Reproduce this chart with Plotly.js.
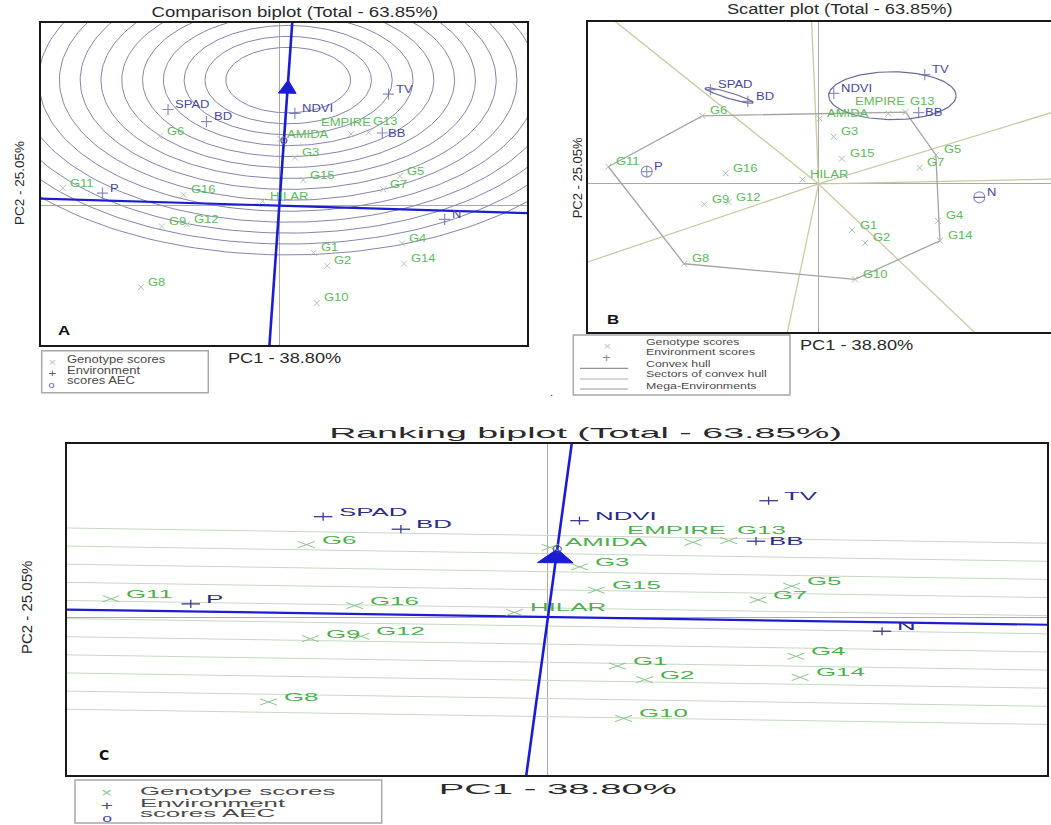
<!DOCTYPE html>
<html><head><meta charset="utf-8">
<script src="https://cdn.plot.ly/plotly-3.0.1.min.js"></script>
<style>html,body{margin:0;padding:0;background:#fff}</style>
</head><body>
<div id="chart" style="width:1051px;height:825px"></div>
<script>
// ---------------- data: PC1 / PC2 scores ----------------
const genotypes = ['G1','G2','G3','G4','G5','G6','G7','G8','G9','G10','G11','G12','G13','G14','G15','G16','EMPIRE','AMIDA','HILAR'];
const genoPC1   = [0.33, 0.46, 0.15, 1.18, 1.16,-1.15, 1.00,-1.33,-1.13, 0.36,-2.08,-0.89, 0.86, 1.20, 0.23,-0.92, 0.69, 0.01,-0.16];
const genoPC2   = [-0.86,-1.10,0.88,-0.69, 0.54, 1.27, 0.30,-1.49,-0.38,-1.78, 0.32,-0.34, 1.34,-1.06, 0.47, 0.20, 1.31, 1.22, 0.08];
const environments = ['SPAD','BD','NDVI','TV','BB','P','N'];
const envPC1 = [-1.07,-0.70, 0.15, 1.05, 0.99,-1.70, 1.59];
const envPC2 = [ 1.76, 1.54, 1.69, 2.04, 1.33, 0.23,-0.25];
const megaEnvGroups = [['SPAD','BD'], ['NDVI','TV','BB']];
const panelTitles = ['Comparison biplot (Total - 63.85%)', 'Scatter plot (Total - 63.85%)', 'Ranking biplot (Total - 63.85%)'];
const panelLetters = ['A','B','C'];
const xTitle = 'PC1 - 38.80%';
const yTitle = 'PC2 - 25.05%';
const legendA = ['Genotype scores','Environment','scores AEC'];
const legendB = ['Genotype scores','Environment scores','Convex hull','Sectors of convex hull','Mega-Environments'];

// ---------------- geometry settings ----------------
const W = 1051, H = 825;
const R = 0.806;              // PC2 : PC1 display metric of the original biplot
const RING_STEP = 0.2, RING_FIRST = 3, RING_LAST = 16, IDEAL_DIST = 2.3;
const RANK_STEP = 0.3175, RANK_OFFSETS = [4.5,3.5,2.5,1.5,0.5,-0.5,-1.5,-2.5,-3.5,-4.5,-5.5];
const ARROW_LEN = 0.24, ARROW_HALF = 0.085;
const BIG = 30;

const avg = a => a.reduce((s, v) => s + v, 0) / a.length;
const norm = v => { const l = Math.hypot(v[0], v[1]); return [v[0] / l, v[1] / l]; };
const perpMetric = v => [-R * v[1], v[0] / R];
const meanEnv = [avg(envPC1), avg(envPC2)];
const aecU = norm(meanEnv);
let ordU = norm(perpMetric(aecU)); if (ordU[0] < 0) ordU = [-ordU[0], -ordU[1]];
const ideal = [aecU[0] * IDEAL_DIST, aecU[1] * IDEAL_DIST];

function fullLine(p, d) { return {x: [p[0] - BIG * d[0], p[0] + BIG * d[0]], y: [p[1] - BIG * d[1], p[1] + BIG * d[1]]}; }
function arrowPoly(tip) {
  const b = [tip[0] - aecU[0] * ARROW_LEN, tip[1] - aecU[1] * ARROW_LEN];
  const p = [aecU[1], -aecU[0]];
  return {x: [tip[0], b[0] + p[0] * ARROW_HALF, b[0] - p[0] * ARROW_HALF, tip[0]],
          y: [tip[1], b[1] + p[1] * ARROW_HALF, b[1] - p[1] * ARROW_HALF, tip[1]]};
}
function convexHull(pts) {
  pts = pts.slice().sort((a, b) => a[0] - b[0] || a[1] - b[1]);
  const cr = (o, a, b) => (a[0] - o[0]) * (b[1] - o[1]) - (a[1] - o[1]) * (b[0] - o[0]);
  const lo = [], up = [];
  for (const p of pts) { while (lo.length >= 2 && cr(lo[lo.length - 2], lo[lo.length - 1], p) <= 0) lo.pop(); lo.push(p); }
  for (let i = pts.length - 1; i >= 0; i--) { const p = pts[i]; while (up.length >= 2 && cr(up[up.length - 2], up[up.length - 1], p) <= 0) up.pop(); up.push(p); }
  lo.pop(); up.pop(); return lo.concat(up);
}
// glyph segments drawn in data space (so they stretch with the panel like the original)
function glyphSegs(xs, ys, hx, hy, diag) {
  const gx = [], gy = [];
  xs.forEach((x, i) => {
    const y = ys[i];
    if (diag) { gx.push(x - hx, x + hx, null, x - hx, x + hx, null); gy.push(y - hy, y + hy, null, y + hy, y - hy, null); }
    else { gx.push(x - hx, x + hx, null, x, x, null); gy.push(y, y, null, y - hy, y + hy, null); }
  });
  return {x: gx, y: gy};
}

const BLUE = '#1c1cd4';
const traces = [];
const ax = ['x', 'x2', 'x3'], ay = ['y', 'y2', 'y3'];

// ---------- Panel A: comparison biplot rings ----------
{
  const rx = [], ry = [];
  for (let k = RING_FIRST; k <= RING_LAST; k++) {
    const r = k * RING_STEP;
    for (let i = 0; i <= 200; i++) { const t = i / 200 * 2 * Math.PI; rx.push(ideal[0] + r * Math.cos(t)); ry.push(ideal[1] + r * Math.sin(t)); }
    rx.push(null); ry.push(null);
  }
  traces.push({x: rx, y: ry, xaxis: 'x', yaxis: 'y', mode: 'lines', line: {color: '#8585ab', width: 1}, hoverinfo: 'skip'});
}
// ---------- Panel C: ranking lines ----------
{
  const lx = [], ly = [];
  RANK_OFFSETS.forEach(o => {
    const p = [aecU[0] * o * RANK_STEP, aecU[1] * o * RANK_STEP];
    const l = fullLine(p, ordU); lx.push(...l.x, null); ly.push(...l.y, null);
  });
  traces.push({x: lx, y: ly, xaxis: 'x3', yaxis: 'y3', mode: 'lines', line: {color: '#c6d8c3', width: 1}, hoverinfo: 'skip'});
}
// ---------- Panel B: convex hull, sectors, mega-environments ----------
{
  const pts = genotypes.map((g, i) => [genoPC1[i], genoPC2[i]]);
  const hull = convexHull(pts);
  const sx = [], sy = [];
  for (let i = 0; i < hull.length; i++) {
    const a = hull[i], b = hull[(i + 1) % hull.length];
    let n = perpMetric([b[0] - a[0], b[1] - a[1]]);
    if (n[0] * a[0] + R * R * n[1] * a[1] < 0) n = [-n[0], -n[1]];
    sx.push(0, n[0] * BIG, null); sy.push(0, n[1] * BIG, null);
  }
  traces.push({x: sx, y: sy, xaxis: 'x2', yaxis: 'y2', mode: 'lines', line: {color: '#cdc8a4', width: 1.3}, hoverinfo: 'skip'});
  traces.push({x: hull.map(p => p[0]).concat([hull[0][0]]), y: hull.map(p => p[1]).concat([hull[0][1]]),
    xaxis: 'x2', yaxis: 'y2', mode: 'lines', line: {color: '#a4a4a4', width: 1.3}, hoverinfo: 'skip'});
  const ex = [], ey = [];
  megaEnvGroups.forEach(grp => {
    const idx = grp.map(n => environments.indexOf(n));
    const px = idx.map(i => envPC1[i]), py = idx.map(i => envPC2[i]);
    const c = [avg(px), avg(py)];
    if (grp.length === 2) {
      const u = norm([px[1] - px[0], py[1] - py[0]]), v = [-u[1], u[0]];
      const a = Math.hypot(px[1] - px[0], py[1] - py[0]) / 2 + 0.06, b = 0.05;
      for (let i = 0; i <= 120; i++) { const t = i / 120 * 2 * Math.PI; ex.push(c[0] + a * Math.cos(t) * u[0] + b * Math.sin(t) * v[0]); ey.push(c[1] + a * Math.cos(t) * u[1] + b * Math.sin(t) * v[1]); }
    } else {
      const a = Math.max(...px.map(x => Math.abs(x - c[0]))) + 0.05, b = Math.max(...py.map(y => Math.abs(y - c[1]))) + 0.09;
      for (let i = 0; i <= 120; i++) { const t = i / 120 * 2 * Math.PI; ex.push(c[0] + a * Math.cos(t)); ey.push(c[1] - 0.04 + b * Math.sin(t)); }
    }
    ex.push(null); ey.push(null);
  });
  traces.push({x: ex, y: ey, xaxis: 'x2', yaxis: 'y2', mode: 'lines', line: {color: '#6c6c9c', width: 1.2}, hoverinfo: 'skip'});
}
// ---------- AEC lines and arrows (A, C) ----------
[0, 2].forEach(p => {
  const a = fullLine([0, 0], aecU), o = fullLine([0, 0], ordU);
  traces.push({x: a.x, y: a.y, xaxis: ax[p], yaxis: ay[p], mode: 'lines', line: {color: BLUE, width: 2.6}, hoverinfo: 'skip'});
  traces.push({x: o.x, y: o.y, xaxis: ax[p], yaxis: ay[p], mode: 'lines', line: {color: BLUE, width: 2.2}, hoverinfo: 'skip'});
  const ar = arrowPoly(p === 0 ? ideal : meanEnv);
  traces.push({x: ar.x, y: ar.y, xaxis: ax[p], yaxis: ay[p], mode: 'lines', fill: 'toself', fillcolor: BLUE, line: {color: BLUE, width: 1}, hoverinfo: 'skip'});
});

// ---------- markers ----------
const panelStyle = [
  {gm: '#b2c8b2', gs: 6, em: '#5a5aa6', es: 8, hs: 1.0, f: 1.3, fs: 10, gcol: '#5cbc5c', ecol: '#4848a0'},
  {gm: '#a6c2a6', gs: 6, em: '#6262a8', es: 8, hs: 1.1, f: 1.3, fs: 10, gcol: '#5cbc5c', ecol: '#4848a0'},
  {gm: '#8cc48c', gs: 9, em: '#3a3a96', es: 12, hs: 2.2, f: 2.35, fs: 11, gcol: '#4cb04c', ecol: '#2a2a8a'}
];
panelStyle.forEach((s, p) => {
  if (p === 2) {
    const g = glyphSegs(genoPC1, genoPC2, 0.04, 0.055, true);
    traces.push({x: g.x, y: g.y, xaxis: 'x3', yaxis: 'y3', mode: 'lines', line: {color: s.gm, width: 1}, hoverinfo: 'skip'});
    const e = glyphSegs(envPC1, envPC2, 0.044, 0.072, false);
    traces.push({x: e.x, y: e.y, xaxis: 'x3', yaxis: 'y3', mode: 'lines', line: {color: s.em, width: 1.3}, hoverinfo: 'skip'});
    const c = [], cy = [];
    for (let i = 0; i <= 40; i++) { const t = i / 40 * 2 * Math.PI; c.push(meanEnv[0] + 0.02 * Math.cos(t)); cy.push(meanEnv[1] + 0.06 * Math.sin(t)); }
    traces.push({x: c, y: cy, xaxis: 'x3', yaxis: 'y3', mode: 'lines', line: {color: s.em, width: 1}, hoverinfo: 'skip'});
    return;
  }
  traces.push({x: genoPC1, y: genoPC2, xaxis: ax[p], yaxis: ay[p], mode: 'markers',
    marker: {symbol: 'x-thin-open', size: s.gs, color: s.gm, line: {width: 1, color: s.gm}}, hoverinfo: 'skip'});
  const envSym = environments.map(n => {
    if (p !== 1) return 'cross-thin-open';
    const inGroup = megaEnvGroups.some(g => g.includes(n));
    return inGroup ? 'cross-thin-open' : (n === 'P' ? 'circle-cross-open' : 'circle-open');
  });
  traces.push({x: envPC1, y: envPC2, xaxis: ax[p], yaxis: ay[p], mode: 'markers',
    marker: {symbol: envSym, size: environments.map((n, i) => envSym[i].startsWith('circle') ? 11 : s.es), color: s.em, line: {width: 1.2, color: s.em}}, hoverinfo: 'skip'});
  if (p === 1) {
    const i = environments.indexOf('N');
    traces.push({x: [envPC1[i]], y: [envPC2[i]], xaxis: 'x2', yaxis: 'y2', mode: 'markers',
      marker: {symbol: 'line-ew-open', size: 8, color: s.em, line: {width: 1.2, color: s.em}}, hoverinfo: 'skip'});
  } else {
    traces.push({x: [meanEnv[0]], y: [meanEnv[1]], xaxis: ax[p], yaxis: ay[p], mode: 'markers',
      marker: {symbol: 'circle-open', size: 6, color: s.em, line: {width: 1.2, color: s.em}}, hoverinfo: 'skip'});
  }
});

// ---------- text ----------
const ann = [], stretch = [];
const FONT = 'Liberation Sans, Arial, sans-serif';
function addText(o, f) {
  ann.push(Object.assign({showarrow: false, borderpad: 0, borderwidth: 0}, o));
  if (f && f !== 1) stretch.push([ann.length - 1, f]);
}
const px = v => v / W, py = v => 1 - v / H;
const nudge = {EMPIRE: [-30, -12], G13: [4, -11], BB: [6, 0]};
panelStyle.forEach((s, p) => {
  const put = (name, x, y, col) => {
    const d = nudge[name] || [7, -5];
    addText({xref: ax[p], yref: ay[p], x: x, y: y, text: name, xanchor: 'left', yanchor: 'middle', align: 'left',
      xshift: d[0] * s.hs, yshift: -d[1], font: {family: FONT, size: s.fs, color: col}}, s.f);
  };
  genotypes.forEach((g, i) => put(g, genoPC1[i], genoPC2[i], s.gcol));
  environments.forEach((e, i) => put(e, envPC1[i], envPC2[i], s.ecol));
});
const TCOL = '#2a2a2a';
// titles
[[295, 12, 14, 1.33], [840, 9.3, 14, 1.3], [585, 432, 15, 2.5]].forEach((t, i) =>
  addText({xref: 'paper', yref: 'paper', x: px(t[0]), y: py(t[1]), text: panelTitles[i], xanchor: 'center', yanchor: 'middle',
    font: {family: FONT, size: t[2], color: TCOL}}, t[3]));
// axis titles
[[284.5, 358, 14, 1.3], [856.7, 345, 14, 1.3], [557, 788, 15, 2.55]].forEach(t =>
  addText({xref: 'paper', yref: 'paper', x: px(t[0]), y: py(t[1]), text: xTitle, xanchor: 'center', yanchor: 'middle',
    font: {family: FONT, size: t[2], color: TCOL}}, t[3]));
[[19, 183, 13.5], [577.3, 178, 13], [26, 608, 15]].forEach(t =>
  addText({xref: 'paper', yref: 'paper', x: px(t[0]), y: py(t[1]), text: yTitle, textangle: -90, xanchor: 'center', yanchor: 'middle',
    font: {family: FONT, size: t[2], color: TCOL}}));
// panel letters
[[58, 330, 13, 1.3, 'bold'], [607, 319, 13, 1.3, 'bold'], [99, 755, 14, 1, 'bold']].forEach((t, i) =>
  addText({xref: 'paper', yref: 'paper', x: px(t[0]), y: py(t[1]), text: panelLetters[i], xanchor: 'left', yanchor: 'middle', align: 'left',
    font: {family: i === 2 ? 'DejaVu Sans, sans-serif' : FONT, size: t[2], color: '#111', weight: t[4]}}, t[3]));
addText({xref: 'paper', yref: 'paper', x: px(551), y: py(392), text: '.', font: {family: FONT, size: 11, color: '#333'}});

// legends
const LCOL = '#4a4a4a';
const glyph = (x, y, t, col, size, f) => addText({xref: 'paper', yref: 'paper', x: px(x), y: py(y), text: t, xanchor: 'center', yanchor: 'middle',
  font: {family: FONT, size: size, color: col}}, f);
const ltext = (x, y, t, size, f) => addText({xref: 'paper', yref: 'paper', x: px(x), y: py(y), text: t, xanchor: 'left', yanchor: 'middle', align: 'left',
  font: {family: FONT, size: size, color: LCOL}}, f);
// A
glyph(51.7, 362, '×', '#b2c8b2', 11, 1.2); glyph(51.7, 373, '+', '#5a5aa6', 11, 1.2); glyph(51.7, 385, 'o', '#5a5aa6', 9, 1.2);
legendA.forEach((t, i) => ltext(67.3, [359.3, 370, 380.7][i], t, 10, 1.3));
// B
glyph(606.7, 346, '×', '#bcc9bc', 11, 1.2); glyph(606.7, 358, '+', '#8a8a8a', 12, 1.2);
legendB.forEach((t, i) => ltext(646, [341, 351, 363.3, 373.3, 385][i], t, 9.5, 1.3));
// C
glyph(106.7, 792.5, '×', '#86cc86', 12, 1.6); glyph(106.7, 805, '+', '#4848a8', 13, 1.6); glyph(106.7, 817.5, 'o', '#4848a8', 11, 1.6);
legendA.forEach((t, i) => ltext(140, [790.7, 802.7, 813.3][i], t, 11, 2.35));

const shapes = [
  {type: 'rect', xref: 'paper', yref: 'paper', x0: px(41.7), x1: px(208.3), y0: py(350.7), y1: py(392.7), line: {color: '#a8a8a8', width: 1.5}},
  {type: 'rect', xref: 'paper', yref: 'paper', x0: px(573.3), x1: px(790), y0: py(335), y1: py(395), line: {color: '#a8a8a8', width: 1.5}},
  {type: 'rect', xref: 'paper', yref: 'paper', x0: px(75), x1: px(381.7), y0: py(780), y1: py(823), line: {color: '#a8a8a8', width: 1.5}}
];
[[368.3, '#7a7a7a'], [379, '#b0b0b0'], [389, '#9a9a9a']].forEach(l =>
  shapes.push({type: 'line', xref: 'paper', yref: 'paper', x0: px(580), x1: px(628.3), y0: py(l[0]), y1: py(l[0]), line: {color: l[1], width: 1}}));

const axBase = {showline: true, mirror: true, linecolor: '#1a1a1a', linewidth: 2, showticklabels: false, ticks: '',
  showgrid: false, zeroline: true, zerolinecolor: '#a9a9a9', zerolinewidth: 1, fixedrange: true};
const layout = {
  width: W, height: H, margin: {l: 0, r: 0, t: 0, b: 0}, showlegend: false,
  paper_bgcolor: '#fff', plot_bgcolor: '#fff',
  xaxis:  Object.assign({}, axBase, {domain: [41 / W, 527 / W], range: [-2.2913, 2.3817], anchor: 'y'}),
  yaxis:  Object.assign({}, axBase, {domain: [1 - 345 / H, 1 - 23 / H], range: [-2.549, 3.343], anchor: 'x'}),
  xaxis2: Object.assign({}, axBase, {domain: [588 / W, 1], range: [-2.281, 2.299], anchor: 'y2'}),
  yaxis2: Object.assign({}, axBase, {mirror: false, domain: [1 - 332 / H, 1 - 22 / H], range: [-2.763, 3.021], anchor: 'x2'}),
  xaxis3: Object.assign({}, axBase, {domain: [67 / W, 1047 / W], range: [-2.289, 2.375], anchor: 'y3'}),
  yaxis3: Object.assign({}, axBase, {domain: [1 - 775 / H, 1 - 444 / H], range: [-2.772, 3.035], anchor: 'x3'}),
  annotations: ann, shapes: shapes
};
const gd = document.getElementById('chart');
Plotly.newPlot(gd, traces, layout, {staticPlot: true, displayModeBar: false}).then(() => {
  stretch.forEach(([i, f]) => {
    const t = gd.querySelector('.annotation[data-index="' + i + '"] text.annotation-text');
    if (!t) return;
    const w = t.getComputedTextLength();
    t.setAttribute('textLength', (w * f).toFixed(1));
    t.setAttribute('lengthAdjust', 'spacingAndGlyphs');
  });
});
</script>
</body></html>
